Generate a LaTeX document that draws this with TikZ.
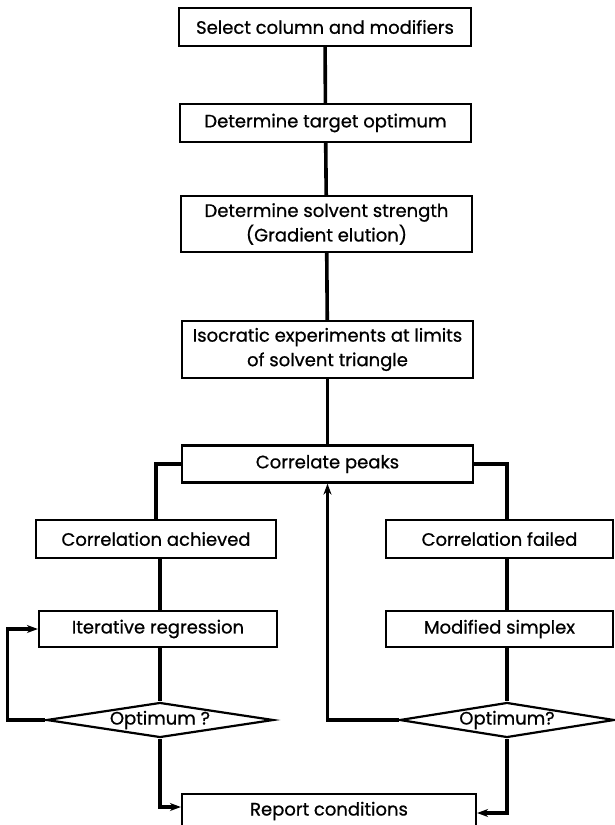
\documentclass[tikz,border=0pt]{standalone}
\usepackage{fontspec}
\setmainfont{Poppins}[FakeBold=0.8]
\usetikzlibrary{shapes.geometric,arrows.meta,calc}
\begin{document}
\begin{tikzpicture}[x=1pt,y=-1pt,
  box/.style={draw,line width=2.2pt,rectangle,inner sep=0pt,align=center,font=\fontsize{18}{24.5}\selectfont},
  dia/.style={draw,line width=2.2pt,diamond,inner sep=0pt,aspect=6.5,font=\fontsize{18}{22}\selectfont},
  conn/.style={line width=3.6pt},
  arr/.style={line width=3.6pt,-{Stealth[length=11pt,width=8pt]}}]
\useasboundingbox (0,0) rectangle (614,825);
\node[box,minimum width=292pt,minimum height=38pt] (b1) at (325,27) {Select column and modifiers};
\node[box,minimum width=291pt,minimum height=38pt] (b2) at (325.5,123) {Determine target optimum};
\node[box,minimum width=291pt,minimum height=56pt] (b3) at (326.5,224) {Determine solvent strength\\(Gradient elution)};
\node[box,minimum width=291pt,minimum height=57pt] (b4) at (327.5,349.5) {Isocratic experiments at limits\\of solvent triangle};
\node[box,minimum width=291pt,minimum height=37pt] (b5) at (327.5,464) {Correlate peaks};
\node[box,minimum width=240pt,minimum height=38pt] (ca) at (156,539) {Correlation achieved};
\node[box,minimum width=227pt,minimum height=38pt] (cf) at (499.5,539) {Correlation failed};
\node[box,minimum width=238pt,minimum height=36pt] (ir) at (158,629) {Iterative regression};
\node[box,minimum width=227pt,minimum height=36pt] (ms) at (499.5,629) {Modified simplex};
\node[dia,minimum width=227pt,minimum height=35pt] (d1) at (160,720) {Optimum ?};
\node[dia,minimum width=213pt,minimum height=35pt] (d2) at (507,720) {Optimum?};
\node[box,minimum width=294pt,minimum height=34pt] (rep) at (329,811) {Report conditions};
\coordinate (cfin) at (507,520);
\draw[conn] (b1) -- (b2);
\draw[conn] (b2) -- (b3);
\draw[conn] (b3) -- (b4);
\draw[conn] (b4) -- (b5);
\draw[conn] (b5.west) -| (ca.north);
\draw[conn] (b5.east) -| (cfin);
\draw[conn] (ca.south -| d1.north) -- (ir.north -| d1.north);
\draw[conn] (ir.south -| d1.north) -- (d1.north);
\draw[arr] (d1.west) -- ++(-38,0) |- (ir.west);
\draw[conn] (cf.south -| d2.north) -- (ms.north -| d2.north);
\draw[conn] (ms.south -| d2.north) -- (d2.north);
\draw[arr] (d2.west) -| (b5.south);
\draw[arr] (d1.south) |- ([yshift=4pt]rep.west);
\draw[arr] (d2.south) |- ([yshift=-2pt]rep.east);
\end{tikzpicture}
\end{document}
